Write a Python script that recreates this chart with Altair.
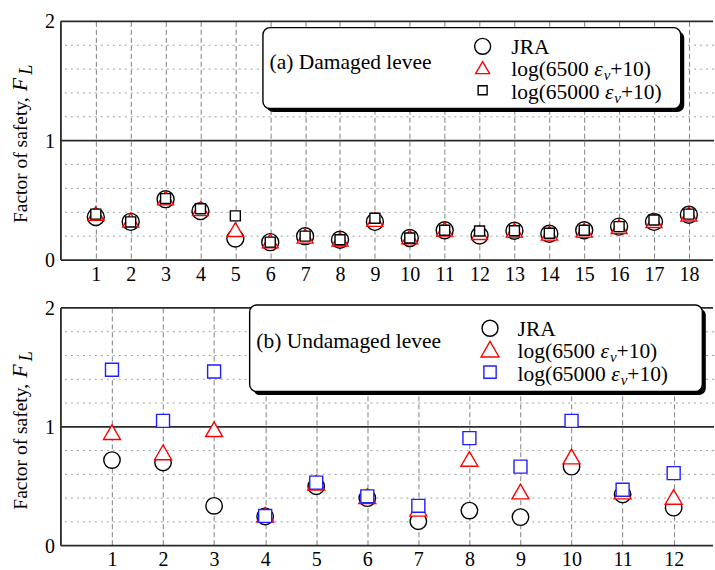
import altair as alt
import pandas as pd

FONT = "Liberation Serif"

# ---------------- data ----------------
sites_a = list(range(1, 19))
jra_a = [0.36, 0.32, 0.51, 0.41, 0.18, 0.15, 0.20, 0.17, 0.32, 0.185, 0.25, 0.205, 0.245, 0.22, 0.25, 0.28, 0.32, 0.38]
log6500_a = [0.39, 0.335, 0.52, 0.43, 0.255, 0.16, 0.20, 0.175, 0.34, 0.195, 0.26, 0.23, 0.25, 0.225, 0.25, 0.28, 0.33, 0.385]
log65000_a = [0.385, 0.32, 0.515, 0.43, 0.37, 0.15, 0.20, 0.17, 0.35, 0.185, 0.25, 0.243, 0.245, 0.225, 0.25, 0.28, 0.335, 0.385]

sites_b = list(range(1, 13))
jra_b = [0.72, 0.70, 0.335, 0.245, 0.50, 0.40, 0.205, 0.295, 0.24, 0.665, 0.43, 0.32]
log6500_b = [0.955, 0.785, 0.98, 0.26, 0.53, 0.415, 0.31, 0.73, 0.455, 0.75, 0.455, 0.41]
log65000_b = [1.48, 1.05, 1.465, 0.25, 0.53, 0.415, 0.335, 0.905, 0.665, 1.05, 0.47, 0.61]

y_labels = [0, 1, 2]
y_minor = [0.2, 0.4, 0.6, 0.8, 1.2, 1.4, 1.6, 1.8]

panel_labels = ["(a) Damaged levee", "(b) Undamaged levee"]
series_pieces = [
    [("JRA", "n")],
    [("log(6500 ", "n"), ("\u03b5", "i"), ("v", "s"), ("+10)", "n")],
    [("log(65000 ", "n"), ("\u03b5", "i"), ("v", "s"), ("+10)", "n")],
]
title_pieces = [("Factor of safety, ", "n"), ("F", "I"), ("L", "s")]

# ---------------- font metrics (Times-compatible) ----------------
W_N = {"l": .278, "o": .5, "g": .5, "(": .333, ")": .333, " ": .25, "+": .564,
       "J": .389, "R": .667, "A": .722, "F": .556, "a": .444, "c": .444, "t": .278,
       "r": .333, "f": .333, "s": .389, "e": .444, "y": .5, ",": .25}
W_I = {"\u03b5": .44, "v": .444, "F": .611, "L": .556}


def text_w(s, size, italic=False):
    tbl = W_I if italic else W_N
    return sum(tbl.get(ch, .5) for ch in s) * size


def one():
    return alt.Data(values=[{"a": 1}])


def pieces_layers(pieces, x0, y0, size, sub_size, sub_shift, rotated=False, color="black", big=None, gap=0.0):
    layers = []
    pos = 0.0
    for txt, st in pieces:
        if st == "s":
            fs = sub_size
        elif st == "I" and big:
            fs = big
        else:
            fs = size
        italic = st in ("i", "s", "I")
        shift = sub_shift if st == "s" else 0
        if rotated:
            xx, yy, ang = x0 + shift, y0 - pos, 270
        else:
            xx, yy, ang = x0 + pos, y0 + shift, 0
        layers.append(
            alt.Chart(one()).mark_text(
                text=txt, font=FONT, fontSize=fs, fontStyle="italic" if italic else "normal",
                align="left", baseline="alphabetic", angle=ang, color=color,
            ).encode(x=alt.value(xx), y=alt.value(yy))
        )
        pos += text_w(txt, fs, italic) + (gap if st == "I" else 0)
    return layers


def spacer(x, y):
    # invisible 1px anchor that fixes the outer bounds of the figure
    return alt.Chart(one()).mark_rect(fill="white", opacity=0).encode(
        x=alt.value(x), x2=alt.value(x + 1), y=alt.value(y), y2=alt.value(y + 1))


def make_panel(sites, jra, s65, s650, xmax, h, sq_color, sz, leg, label, anchors):
    W = 654
    df = pd.DataFrame({"site": sites, "jra": jra, "s65": s65, "s650": s650})
    xs = alt.Scale(domain=[0, xmax], nice=False, zero=False)
    ys = alt.Scale(domain=[0, 2], nice=False)
    xaxis = alt.Axis(values=sites, grid=True, gridDash=[5, 3], gridColor="#808080", gridWidth=1,
                     ticks=False, domain=False, labelFont=FONT, labelFontSize=20, labelColor="black",
                     labelPadding=4, title=None, labelFlush=False, format="d", labelOverlap=False)
    yaxis = alt.Axis(values=y_labels, grid=False, ticks=False, domain=False, labels=False, title=None)

    layers = [spacer(*a) for a in anchors]
    layers.append(alt.Chart(pd.DataFrame({"g": y_minor})).mark_rule(
        color="#a0a0a0", strokeDash=[2, 4], strokeWidth=1).encode(
        y=alt.Y("g:Q", scale=ys, axis=yaxis)))
    layers.append(alt.Chart(pd.DataFrame({"one": [1]})).mark_rule(
        color="#2a2a2a", strokeWidth=1.7).encode(y=alt.Y("one:Q", scale=ys, axis=yaxis)))
    # y tick labels
    layers.append(alt.Chart(pd.DataFrame({"v": y_labels})).mark_text(
        font=FONT, fontSize=20, align="right", baseline="middle", color="black", dy=1).encode(
        x=alt.value(-6), y=alt.Y("v:Q", scale=ys, axis=yaxis), text=alt.Text("v:Q", format="d")))

    specs = [("jra", "circle", "black", sz[0]), ("s65", "triangle-up", "#ff0000", sz[1]),
             ("s650", "square", sq_color, sz[2])]
    for field, shape, col, size in specs:
        layers.append(alt.Chart(df).mark_point(
            shape=shape, filled=True, fill="white", stroke=col, strokeWidth=1.4,
            size=size, opacity=1).encode(
            x=alt.X("site:Q", scale=xs, axis=xaxis),
            y=alt.Y(f"{field}:Q", scale=ys, axis=yaxis)))

    # frame (top, left, bottom); right side falls outside the figure
    for yv in (0, h):
        layers.append(alt.Chart(one()).mark_rule(color="#2a2a2a", strokeWidth=1.8).encode(
            x=alt.value(0), x2=alt.value(W - 1), y=alt.value(yv)))
    layers.append(alt.Chart(one()).mark_rule(color="#2a2a2a", strokeWidth=1.8).encode(
        x=alt.value(0), y=alt.value(0), y2=alt.value(h)))

    # legend box with shadow
    bx0, bx1, by0, by1 = leg["box"]
    layers.append(alt.Chart(one()).mark_rect(fill="black", cornerRadius=7).encode(
        x=alt.value(bx0 + 3.5), x2=alt.value(bx1 + 3.5), y=alt.value(by0 + 3.5), y2=alt.value(by1 + 3.5)))
    layers.append(alt.Chart(one()).mark_rect(fill="white", stroke="black", strokeWidth=1.4, cornerRadius=7).encode(
        x=alt.value(bx0), x2=alt.value(bx1), y=alt.value(by0), y2=alt.value(by1)))
    layers += pieces_layers([(label, "n")], leg["label"][0], leg["label"][1], 21.5, 15, 4)

    sym_specs = [("circle", "black", leg["sym_size"][0]), ("triangle-up", "#ff0000", leg["sym_size"][1]),
                 ("square", sq_color, leg["sym_size"][2])]
    for i, (shape, col, size) in enumerate(sym_specs):
        layers.append(alt.Chart(one()).mark_point(
            shape=shape, filled=False, stroke=col, strokeWidth=1.4, size=size, opacity=1).encode(
            x=alt.value(leg["sym_x"]), y=alt.value(leg["sym_y"][i])))
        layers += pieces_layers(series_pieces[i], leg["txt_x"], leg["txt_y"][i], 21.5, 15, 4)

    # y title
    layers += pieces_layers(title_pieces, -34, 202, 19.5, 18, 5, rotated=True, big=22, gap=3)

    return alt.layer(*layers).properties(width=W, height=h)


leg_a = {"box": (202.3, 620.7, 6.3, 87.3), "label": (209, 47.3), "sym_x": 422.3,
         "sym_y": [25, 46.3, 69], "sym_size": [256, 196, 81], "txt_x": 451,
         "txt_y": [32.3, 55.0, 77.7]}
leg_b = {"box": (189, 642.3, -3, 83.7), "label": (195.7, 40.3), "sym_x": 429.7,
         "sym_y": [20.3, 41.3, 64.3], "sym_size": [256, 324, 151], "txt_x": 457.3,
         "txt_y": [27.7, 50.4, 73.1]}

top = make_panel(sites_a, jra_a, log6500_a, log65000_a, 18.72, 239, "black", [289, 256, 100],
                 leg_a, panel_labels[0], anchors=[(-61, -21)])
bottom = make_panel(sites_b, jra_b, log6500_b, log65000_b, 12.79, 238, "#1f1fff", [272, 289, 169],
                    leg_b, panel_labels[1], anchors=[(-61, 238 + 23)])

chart = alt.vconcat(top, bottom, spacing=48, bounds="flush").properties(
    padding={"left": 0, "top": 0, "right": 0, "bottom": 0},
    background="white",
).configure_view(stroke=None)

chart.save("out.html", embed_options={"renderer": "svg", "actions": False})
